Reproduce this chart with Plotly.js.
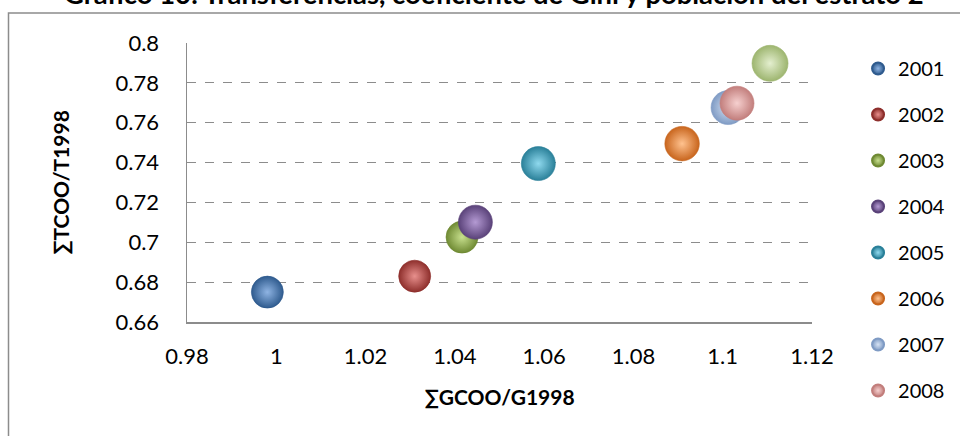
<!DOCTYPE html>
<html>
<head>
<meta charset="utf-8">
<script src="https://cdn.plot.ly/plotly-3.0.1.min.js"></script>
<style>
html,body{margin:0;padding:0;background:#fff;}
#chart{width:960px;height:436px;}
</style>
</head>
<body>
<div id="chart"></div>
<script>
// ---- data ----
var years = ["2001","2002","2003","2004","2005","2006","2007","2008",""];
var gcoo = [0.998, 1.031, 1.0416, 1.0446, 1.0587, 1.0909, 1.1012, 1.1032, 1.1106];
var tcoo = [0.675, 0.683, 0.7026, 0.7101, 0.7395, 0.7495, 0.7676, 0.7698, 0.7898];
var bubbleSize = [32, 32, 32, 34, 34, 34.5, 34, 34, 36];
var inLegend = [true, true, true, true, true, true, true, true, false];

var xTickVals = [0.98, 1.0, 1.02, 1.04, 1.06, 1.08, 1.1, 1.12];
var xTickText = ["0.98", "1", "1.02", "1.04", "1.06", "1.08", "1.1", "1.12"];
var yTickVals = [0.66, 0.68, 0.7, 0.72, 0.74, 0.76, 0.78, 0.8];
var yTickText = ["0.66", "0.68", "0.7", "0.72", "0.74", "0.76", "0.78", "0.8"];

var chartTitle = "Gráfico 10: Transferencias, coeficiente de Gini y población del estrato 2";

// sphere colours: edge (dark) and centre (light)
var edgeColors = ["#2f5b8e", "#8e2f2c", "#6f8a33", "#5a4279", "#2a8099", "#c8651d", "#7f9bc4", "#c27e7c", "#9db56f"];
var centerColors = ["#8fb4e3", "#e8908d", "#c8e08e", "#b49ad3", "#8fd9ee", "#ffc28f", "#d5e2f4", "#f6d0cf", "#e4efcf"];

var font = "Lato, 'Open Sans', sans-serif";

var traces = years.map(function (yr, i) {
  return {
    type: "scatter",
    mode: "markers",
    name: yr,
    x: [gcoo[i]],
    y: [tcoo[i]],
    showlegend: inLegend[i],
    legendgroup: "g" + i,
    marker: {
      size: bubbleSize[i],
      color: edgeColors[i],
      gradient: { type: "radial", color: centerColors[i] },
      line: { width: 0.6, color: edgeColors[i] }
    },
    hoverinfo: "x+y+name"
  };
});

var layout = {
  width: 960,
  height: 436,
  paper_bgcolor: "#ffffff",
  plot_bgcolor: "#ffffff",
  margin: { l: 187.3, r: 148.3, t: 42.7, b: 113.7, pad: 0, autoexpand: false },
  font: { family: font, color: "#000000", size: 20 },
  annotations: [{
    text: "<b>" + chartTitle + "</b>",
    xref: "paper", yref: "paper",
    x: 0.4904, xanchor: "center",
    y: 1.1098, yanchor: "bottom",
    showarrow: false,
    font: { family: font, size: 27.4, color: "#000000" }
  }],
  xaxis: {
    range: [0.98, 1.12],
    tickvals: xTickVals,
    ticktext: xTickText,
    showgrid: false,
    zeroline: false,
    showline: true,
    linecolor: "#8c8c8c",
    linewidth: 1.5,
    ticks: "",
    ticklabelstandoff: 14,
    tickfont: { family: font, size: 22, color: "#000000" },
    title: {
      text: "<b>∑GCOO/G1998</b>",
      font: { family: font, size: 21, color: "#000000" },
      standoff: 22
    },
    automargin: false
  },
  yaxis: {
    range: [0.66, 0.8],
    tickvals: yTickVals,
    ticktext: yTickText,
    showgrid: true,
    gridcolor: "#8c8c8c",
    gridwidth: 1,
    griddash: "dash",
    zeroline: false,
    showline: true,
    linecolor: "#8c8c8c",
    linewidth: 1.5,
    ticks: "",
    ticklabelstandoff: 22,
    tickfont: { family: font, size: 22, color: "#000000" },
    title: {
      text: "<b>∑TCOO/T1998</b>",
      font: { family: font, size: 21, color: "#000000" },
      standoff: 40
    },
    automargin: false
  },
  legend: {
    xref: "container", yref: "container",
    x: 0.8938, xanchor: "left",
    y: 0.8876, yanchor: "top",
    maxheight: 420,
    font: { family: font, size: 20, color: "#000000" },
    tracegroupgap: 17,
    itemsizing: "constant",
    bgcolor: "rgba(0,0,0,0)"
  },
  shapes: [{
    type: "rect", xref: "paper", yref: "paper",
    x0: -0.2856, x1: 1.2407, y0: -0.421, y1: 1.1073,
    line: { color: "#8c8c8c", width: 1.5 },
    fillcolor: "rgba(0,0,0,0)",
    layer: "below"
  }],
  showlegend: true
};

Plotly.newPlot("chart", traces, layout, { displayModeBar: false, staticPlot: true });
</script>
</body>
</html>
